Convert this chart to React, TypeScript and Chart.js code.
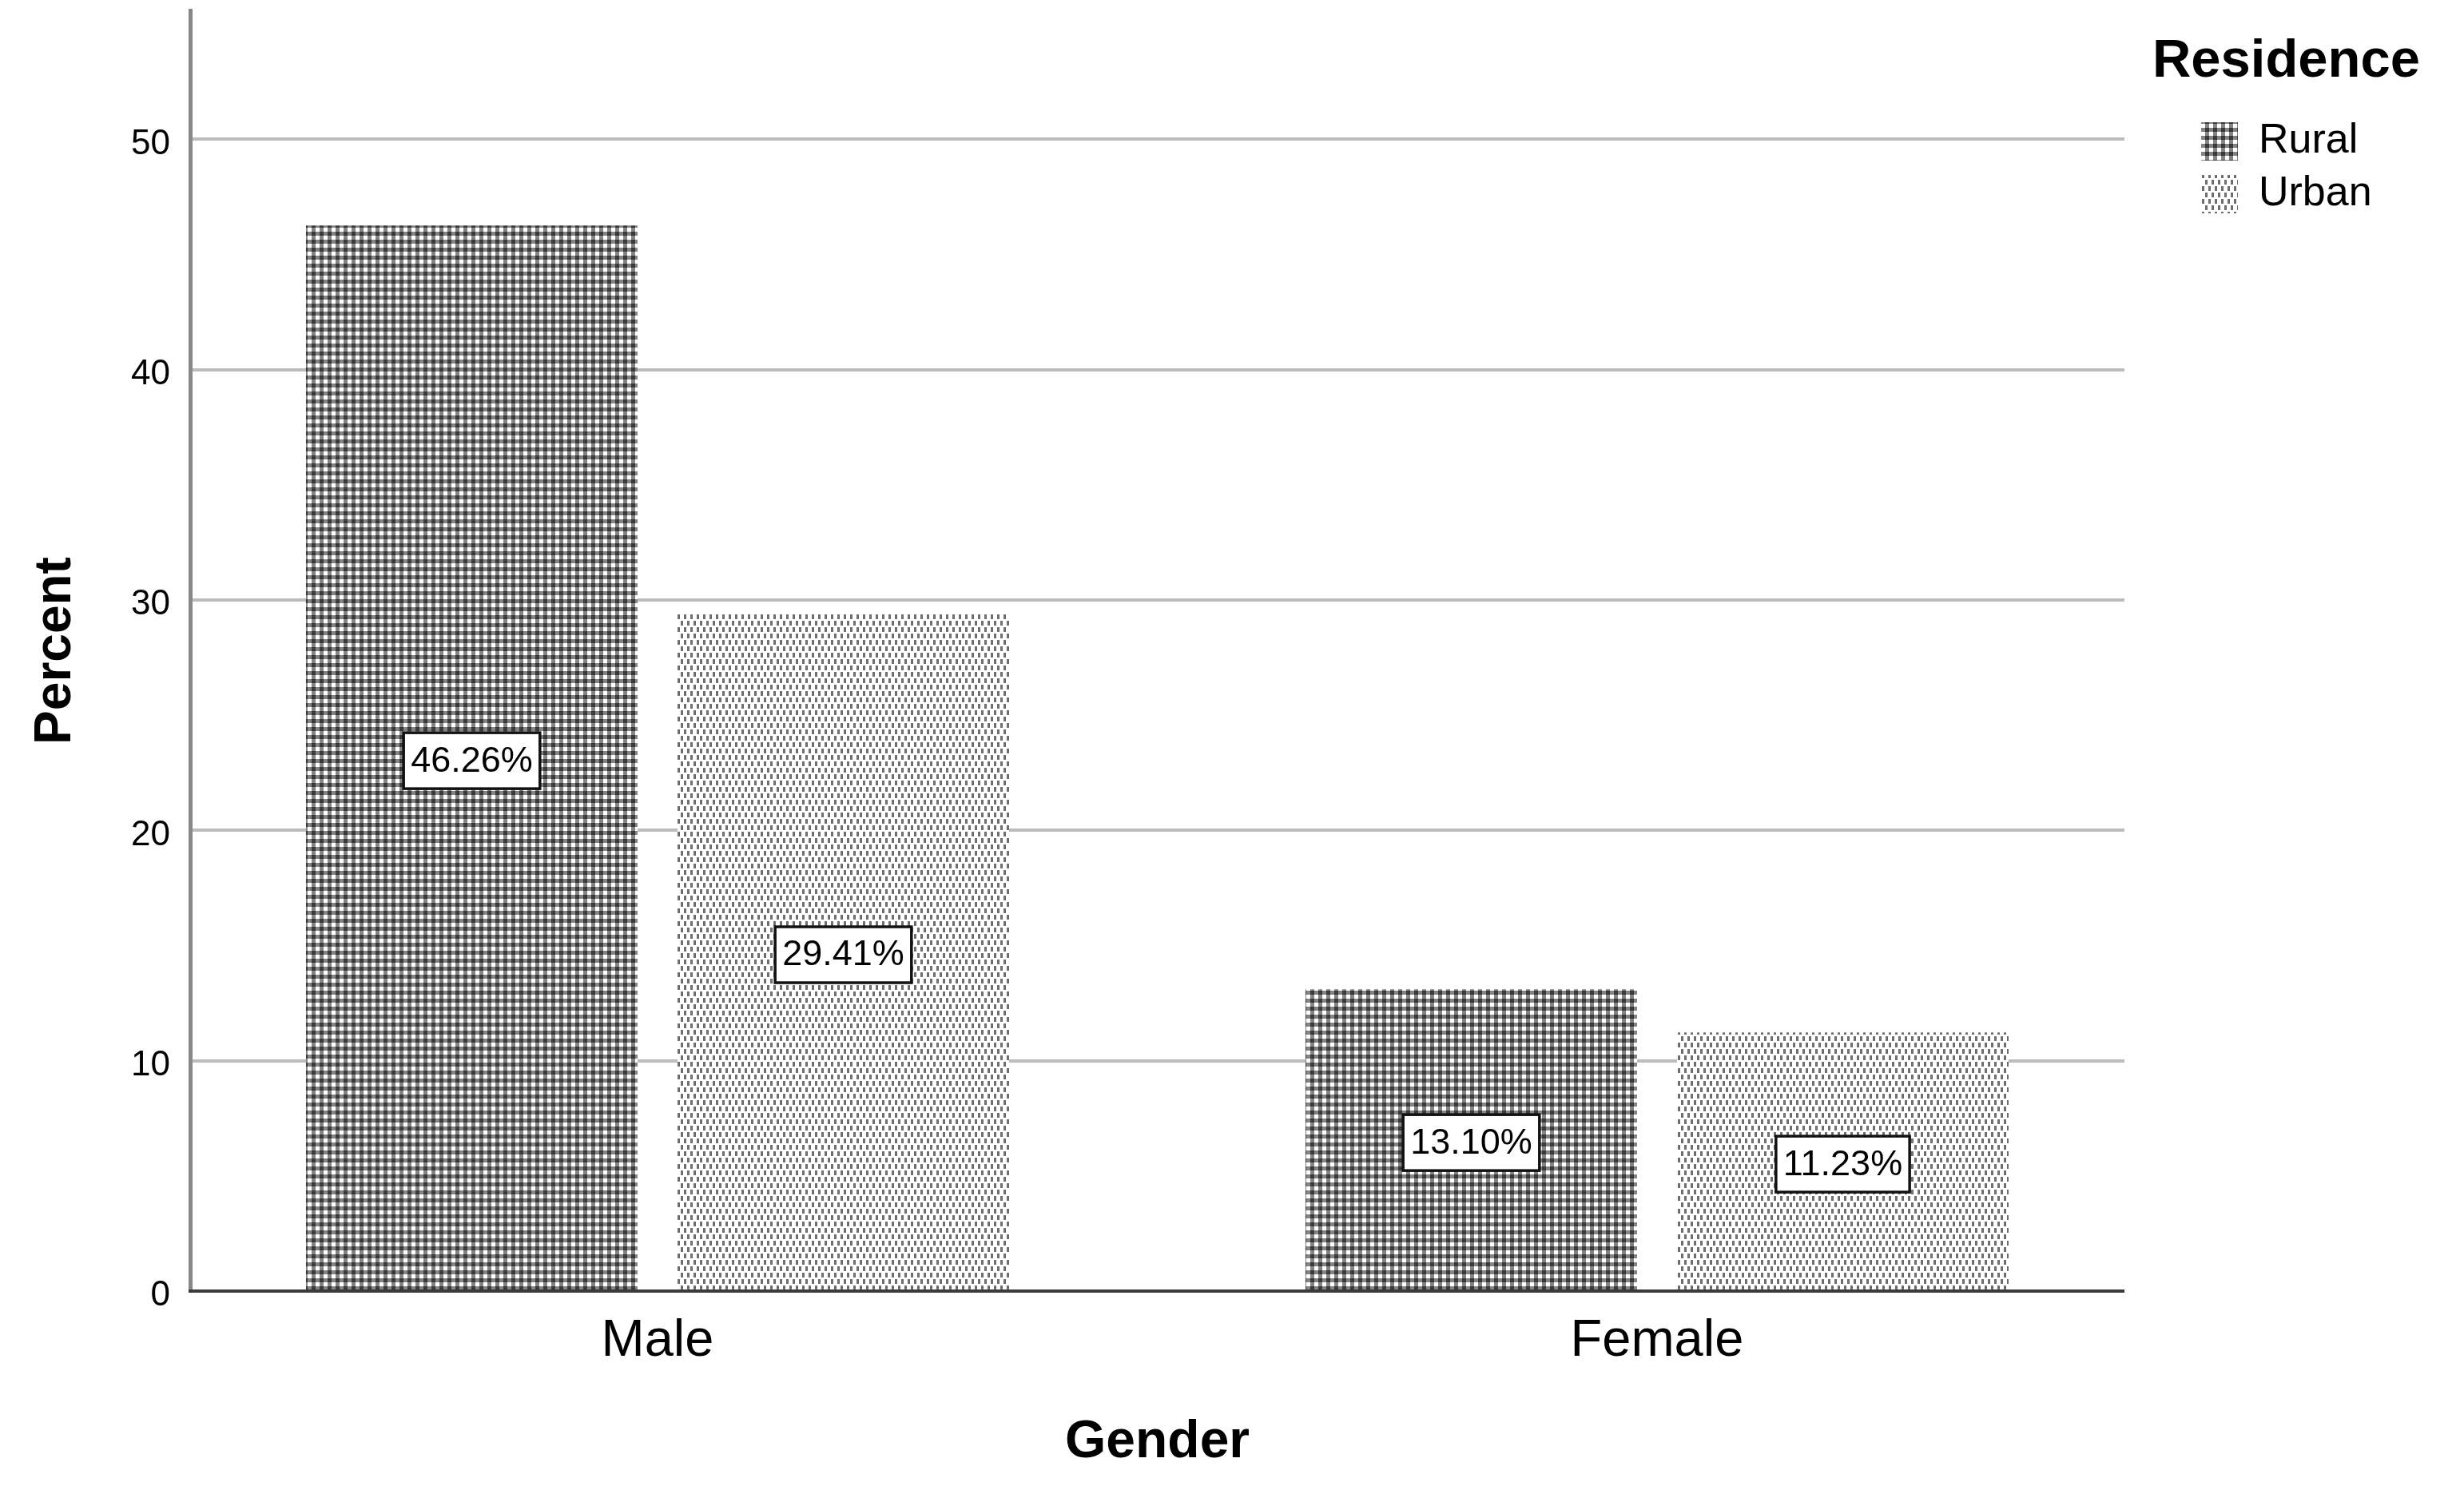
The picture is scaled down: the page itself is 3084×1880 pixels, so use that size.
import React, { useEffect, useRef } from 'react';
import { Chart, registerables } from 'chart.js';

Chart.register(...registerables);

// ---- data ----
const categories = ['Male', 'Female'];
const seriesNames = ['Rural', 'Urban'];
const ruralValues = [46.26, 13.10];
const urbanValues = [29.41, 11.23];
const yTickValues = [0, 10, 20, 30, 40, 50];
const yMin = 0;
const yMax = 55.6;
const xTitle = 'Gender';
const yTitle = 'Percent';
const legendTitle = 'Residence';

const FONT = '"Liberation Sans", Arial, Helvetica, sans-serif';
const W = 3084;
const H = 1880;

function makeRuralPattern(): CanvasPattern {
  const c = document.createElement('canvas');
  c.width = 10;
  c.height = 10;
  const g = c.getContext('2d')!;
  g.fillStyle = '#ffffff';
  g.fillRect(0, 0, 10, 10);
  g.fillStyle = '#848484';
  g.fillRect(0, 0, 10, 5);
  g.fillRect(0, 0, 5, 10);
  g.fillStyle = '#3a3a3a';
  g.fillRect(0, 0, 5, 5);
  return g.createPattern(c, 'repeat')!;
}

function makeUrbanPattern(): CanvasPattern {
  const c = document.createElement('canvas');
  c.width = 8;
  c.height = 16;
  const g = c.getContext('2d')!;
  g.fillStyle = '#ffffff';
  g.fillRect(0, 0, 8, 16);
  g.fillStyle = '#6e6e6e';
  g.fillRect(0, 1, 3, 6);
  g.fillRect(4, 9, 3, 6);
  return g.createPattern(c, 'repeat')!;
}

const valueLabelPlugin = {
  id: 'valueLabels',
  afterDatasetsDraw(chart: any) {
    const ctx = chart.ctx as CanvasRenderingContext2D;
    ctx.save();
    ctx.font = `45px ${FONT}`;
    ctx.textAlign = 'center';
    ctx.textBaseline = 'middle';
    chart.data.datasets.forEach((ds: any, di: number) => {
      const meta = chart.getDatasetMeta(di);
      meta.data.forEach((el: any, i: number) => {
        const { x, y, base } = el.getProps(['x', 'y', 'base'], true);
        const v = ds.data[i].y as number;
        const text = v.toFixed(2) + '%';
        const w = ctx.measureText(text).width + 18;
        const h = 70;
        const cy = (y + base) / 2 + 4;
        ctx.fillStyle = '#ffffff';
        ctx.fillRect(x - w / 2, cy - h / 2, w, h);
        ctx.strokeStyle = '#111111';
        ctx.lineWidth = 3.5;
        ctx.strokeRect(x - w / 2, cy - h / 2, w, h);
        ctx.fillStyle = '#000000';
        ctx.fillText(text, x, cy + 1);
      });
    });
    ctx.restore();
  },
};

// The legend clips its own area; its title is wider than the items, so the
// visible title text is rendered here (unclipped) above the legend items.
const legendTitlePlugin = {
  id: 'legendTitleText',
  afterDraw(chart: any) {
    const lg = chart.legend;
    if (!lg) return;
    const ctx = chart.ctx as CanvasRenderingContext2D;
    ctx.save();
    ctx.font = `bold 67px ${FONT}`;
    ctx.fillStyle = '#000';
    ctx.textAlign = 'center';
    ctx.textBaseline = 'middle';
    ctx.fillText(legendTitle, lg.left + 120.5, lg.top + 65);
    ctx.restore();
  },
};

export default function App() {
  const canvasRef = useRef<HTMLCanvasElement | null>(null);

  useEffect(() => {
    const canvas = canvasRef.current;
    if (!canvas) return;
    const rural = makeRuralPattern();
    const urban = makeUrbanPattern();

    const chart = new Chart(canvas, {
      type: 'bar',
      data: {
        datasets: [
          {
            label: seriesNames[0],
            data: ruralValues.map((v, i) => ({ x: i, y: v })),
            backgroundColor: rural,
            borderWidth: 0,
            categoryPercentage: 0.7434,
            barPercentage: 0.8925,
          },
          {
            label: seriesNames[1],
            data: urbanValues.map((v, i) => ({ x: i, y: v })),
            backgroundColor: urban,
            borderWidth: 0,
            categoryPercentage: 0.7434,
            barPercentage: 0.8925,
          },
        ],
      } as any,
      options: {
        responsive: false,
        animation: false,
        devicePixelRatio: 1,
        layout: { padding: { top: 13, right: 105.4, bottom: 0, left: 0 } },
        plugins: {
          tooltip: { enabled: false },
          legend: {
            display: true,
            position: 'right',
            align: 'start',
            title: {
              display: true,
              text: legendTitle,
              color: 'rgba(0,0,0,0)',
              font: { family: FONT, size: 67, weight: 'bold' },
              padding: { top: 26.5, bottom: 17 },
            },
            labels: {
              color: '#000',
              font: { family: FONT, size: 52 },
              boxWidth: 46,
              boxHeight: 48,
              padding: 14,
            },
          },
        },
        scales: {
          x: {
            type: 'linear',
            min: -0.4676,
            max: categories.length - 1 + 0.4676,
            bounds: 'data',
            offset: false,
            afterBuildTicks: (s: any) => {
              s.ticks = categories.map((_, i) => ({ value: i }));
            },
            afterFit: (s: any) => {
              s.height = 264;
              s.paddingLeft = 0;
              s.paddingRight = 0;
            },
            grid: { display: false, drawTicks: false },
            border: { display: true, color: '#3a3a3a', width: 4, z: 1 },
            ticks: {
              autoSkip: false,
              maxRotation: 0,
              padding: 24,
              color: '#000',
              font: { family: FONT, size: 65 },
              callback: (v: any) => categories[Math.round(Number(v))] ?? '',
            },
            title: {
              display: true,
              text: xTitle,
              color: '#000',
              font: { family: FONT, size: 66, weight: 'bold' },
              padding: { top: 0, bottom: 35 },
            },
          },
          y: {
            type: 'linear',
            position: 'left',
            min: yMin,
            max: yMax,
            bounds: 'data',
            afterBuildTicks: (s: any) => {
              s.ticks = yTickValues.map((v) => ({ value: v }));
            },
            afterFit: (s: any) => {
              s.width = 238;
              s.paddingTop = 0;
              s.paddingBottom = 0;
            },
            grid: { display: true, drawTicks: false, color: '#bcbcbc', lineWidth: 4 },
            border: { display: true, color: '#888888', width: 5 },
            ticks: {
              stepSize: 10,
              includeBounds: false,
              padding: 25,
              labelOffset: 6,
              color: '#000',
              font: { family: FONT, size: 44 },
            },
            title: {
              display: true,
              text: yTitle,
              color: '#000',
              font: { family: FONT, size: 64, weight: 'bold' },
              padding: { top: 31.6, bottom: 0 },
            },
          },
          ySpacer: {
            type: 'linear',
            position: 'right',
            display: true,
            grid: { display: false, drawTicks: false },
            border: { display: false },
            ticks: { display: false },
            afterFit: (s: any) => {
              s.width = 82;
              s.paddingTop = 0;
              s.paddingBottom = 0;
            },
          },
        },
      } as any,
      plugins: [valueLabelPlugin, legendTitlePlugin],
    });

    return () => {
      chart.destroy();
    };
  }, []);

  return (
    <div style={{ position: 'fixed', left: 0, top: 0, width: W, height: H, background: '#ffffff' }}>
      <canvas ref={canvasRef} width={W} height={H} style={{ display: 'block', width: W, height: H }} />
    </div>
  );
}
